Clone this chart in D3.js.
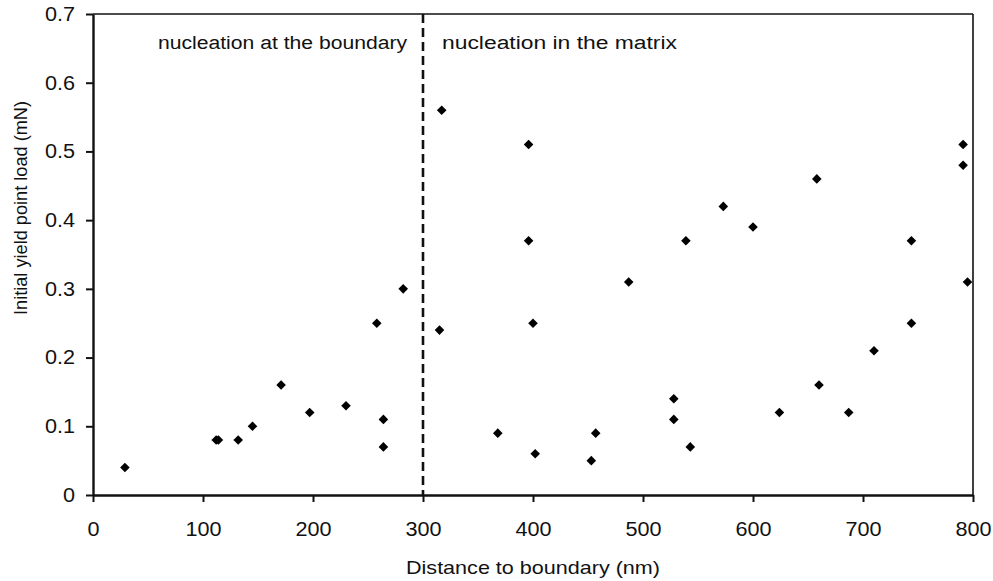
<!DOCTYPE html>
<html>
<head>
<meta charset="utf-8">
<script src="https://cdn.jsdelivr.net/npm/d3@7"></script>
<style>
  html, body { margin: 0; padding: 0; background: #fff; }
  text { font-family: "Liberation Sans", Arial, Helvetica, sans-serif; fill: #111; }
</style>
</head>
<body>
<svg id="chart" width="993" height="581"></svg>
<script>
// ---- data ----
const distance = [29, 112, 114, 132, 145, 171, 197, 230, 258, 264, 264, 282,
  317, 396, 396, 487, 400, 315, 368, 457, 402, 453,
  791, 791, 658, 573, 600, 539, 744, 795, 744, 710, 660, 528, 528, 624, 687, 543];
const load = [0.04, 0.08, 0.08, 0.08, 0.10, 0.16, 0.12, 0.13, 0.25, 0.11, 0.07, 0.30,
  0.56, 0.51, 0.37, 0.31, 0.25, 0.24, 0.09, 0.09, 0.06, 0.05,
  0.51, 0.48, 0.46, 0.42, 0.39, 0.37, 0.37, 0.31, 0.25, 0.21, 0.16, 0.14, 0.11, 0.12, 0.12, 0.07];
const xTicks = [0, 100, 200, 300, 400, 500, 600, 700, 800];
const yTicks = [0, 0.1, 0.2, 0.3, 0.4, 0.5, 0.6, 0.7];
const boundaryX = [300];
const annotations = ["nucleation at the boundary", "nucleation in the matrix"];
const xTitle = "Distance to boundary (nm)";
const yTitle = "Initial yield point load (mN)";

// ---- layout ----
const svg = d3.select("#chart");
const L = 93, R = 973, T = 14, B = 495;
const x = d3.scaleLinear().domain([0, 800]).range([L, R]);
const y = d3.scaleLinear().domain([0, 0.7]).range([B, T]);

// frame (top & right)
svg.append("line").attr("x1", L).attr("x2", R).attr("y1", T).attr("y2", T)
  .attr("stroke", "#111").attr("stroke-width", 1.6);
svg.append("line").attr("x1", R).attr("x2", R).attr("y1", T).attr("y2", B)
  .attr("stroke", "#111").attr("stroke-width", 1.6);

// axes
const gx = svg.append("g").attr("transform", `translate(0,${B})`)
  .call(d3.axisBottom(x).tickValues(xTicks).tickSize(7).tickPadding(20).tickSizeOuter(0).tickFormat(d3.format("d")));
const gy = svg.append("g").attr("transform", `translate(${L},0)`)
  .call(d3.axisLeft(y).tickValues(yTicks).tickSize(7).tickPadding(11).tickSizeOuter(0)
    .tickFormat(d => d === 0 ? "0" : d3.format(".1f")(d)));
[gx, gy].forEach(g => {
  g.select(".domain").attr("stroke", "#111").attr("stroke-width", 2.4);
  g.selectAll(".tick line").attr("stroke", "#111").attr("stroke-width", 2);
  g.selectAll(".tick text").attr("font-size", 20).attr("fill", "#111")
    .attr("font-family", "Liberation Sans, Arial, sans-serif")
    .each(function () {
      const len = this.getComputedTextLength();
      d3.select(this).attr("textLength", len * 1.08).attr("lengthAdjust", "spacingAndGlyphs");
    });
});

// dashed boundary line
svg.selectAll(".bline").data(boundaryX).join("line")
  .attr("x1", d => x(d)).attr("x2", d => x(d)).attr("y1", T).attr("y2", B)
  .attr("stroke", "#111").attr("stroke-width", 2.6).attr("stroke-dasharray", "9,5");

// annotations
svg.append("text").attr("x", 158).attr("y", 49).attr("font-size", 18)
  .attr("textLength", 249).attr("lengthAdjust", "spacingAndGlyphs").text(annotations[0]);
svg.append("text").attr("x", 442).attr("y", 49).attr("font-size", 18)
  .attr("textLength", 235).attr("lengthAdjust", "spacingAndGlyphs").text(annotations[1]);

// axis titles
svg.append("text").attr("x", (L + R) / 2).attr("y", 574).attr("text-anchor", "middle")
  .attr("font-size", 19).attr("textLength", 254).attr("lengthAdjust", "spacingAndGlyphs").text(xTitle);
svg.append("text").attr("transform", `translate(27,208) rotate(-90)`)
  .attr("text-anchor", "middle").attr("font-size", 18)
  .attr("textLength", 214).attr("lengthAdjust", "spacingAndGlyphs").text(yTitle);

// points
const pts = distance.map((d, i) => ({ x: d, y: load[i] }));
const sym = d3.symbol().type(d3.symbolSquare).size(46);
svg.selectAll(".pt").data(pts).join("path")
  .attr("transform", d => `translate(${x(d.x)},${y(d.y)}) rotate(45)`)
  .attr("d", sym).attr("fill", "#000");
</script>
</body>
</html>
